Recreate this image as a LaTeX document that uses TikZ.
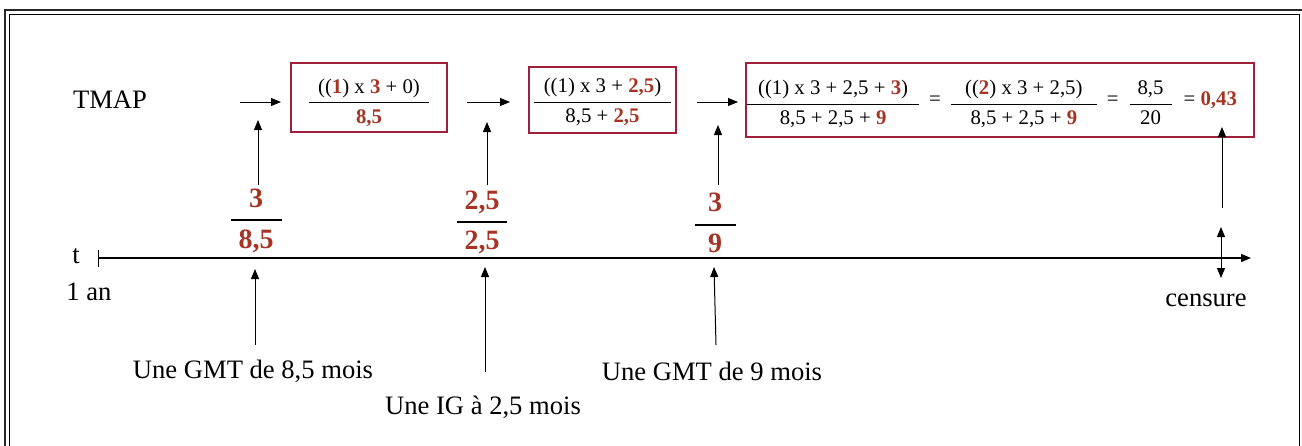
\documentclass[tikz,border=0pt]{standalone}
\usepackage{fontspec}
\setmainfont{Liberation Serif}
\usetikzlibrary{arrows.meta, positioning}
\definecolor{brique}{RGB}{165,52,36}
\definecolor{cadre}{RGB}{158,32,58}
\newcommand{\rg}[1]{\textcolor{brique}{\textbf{#1}}}
\newcommand{\fracbar}[4][0.5pt]{{\setlength{\arrayrulewidth}{#1}\renewcommand{\arraystretch}{1.15}%
  \begin{tabular}{@{}c@{}}\makebox[#2]{#3}\\\hline #4\end{tabular}}}
\newcommand{\baisse}[2]{\raisebox{-#1}[\height][\depth]{#2}}

\begin{document}
\begin{tikzpicture}[x=0.5pt, y=-0.5pt,
    font=\fontsize{13.3}{16}\selectfont,
    fleche/.style={-{Triangle[length=5pt,width=4pt]}, line width=0.5pt},
    boite/.style={draw=cadre, line width=0.6pt, inner sep=0pt},
    petit/.style={font=\fontsize{10.4}{12.5}\selectfont},
    gros/.style={font=\fontsize{14}{17}\selectfont}]
  \clip (0,0) rectangle (1302,445);
  % cadre double
  \draw[line width=1pt, black!85] (5,10) rectangle (1330,480);
  \draw[line width=0.5pt] (9,14) rectangle (1299,480);

  % ligne TMAP
  \node (tmap) at (110,100) {TMAP};
  \node[boite, petit, minimum width=78pt, minimum height=34.5pt]
    (b1) at (369,97.5) {\baisse{2.5pt}{\fracbar{60pt}{((\rg{1}) x \rg{3} + 0)}{\rg{8,5}}}};
  \node[boite, petit, minimum width=73.5pt, minimum height=33pt]
    (b2) at (602.5,100) {\baisse{1pt}{\fracbar{68.5pt}{((1) x 3 + \rg{2,5})}{8,5 + \rg{2,5}}}};
  \node[boite, petit, line width=1.1pt, minimum width=254pt, minimum height=37pt]
    (b3) at (1000,100) {\baisse{2pt}{\fracbar{86pt}{((1) x 3 + 2,5 + \rg{3})}{8,5 + 2,5 + \rg{9}}}%
      \hspace{5pt}=\hspace{5pt}%
      \baisse{2pt}{\fracbar{73pt}{((\rg{2}) x 3 + 2,5)}{8,5 + 2,5 + \rg{9}}}%
      \hspace{5pt}=\hspace{5.5pt}%
      \baisse{2pt}{\fracbar{21pt}{8,5}{20}}%
      \hspace{6pt}= \rg{0,43}\kern8pt\relax};

  \coordinate (h1) at (240,102);  \coordinate (h1e) at (281,102);
  \coordinate (h2) at (467,102);  \coordinate (h2e) at (510,102);
  \coordinate (h3) at (697,102);  \coordinate (h3e) at (738,102);
  \draw[fleche] (h1) -- (h1e);
  \draw[fleche] (h2) -- (h2e);
  \draw[fleche] (h3) -- (h3e);

  % poids
  \node[gros] (f1) at (256,220) {\fracbar[1pt]{25.5pt}{\rg{3}}{\rg{8,5}}};
  \node[gros] (f2) at (482,222) {\fracbar[0.6pt]{25pt}{\rg{2,5}}{\rg{2,5}}};
  \node[gros] (f3) at (715,224.5) {\fracbar[1pt]{20.5pt}{\rg{3}}{\rg{9}}};
  \coordinate (u1) at (258,120);
  \coordinate (u2) at (487,122);
  \coordinate (u3) at (718,125);
  \draw[fleche] (u1 |- 0,185) -- (u1);
  \draw[fleche] (u2 |- 0,185) -- (u2);
  \draw[fleche] (u3 |- 0,185) -- (u3);

  % axe du temps
  \coordinate (t0) at (98,258);
  \coordinate (t1) at (1251,258);
  \draw[{Bar[width=8.5pt]}-{Triangle[length=5pt,width=4pt]}, line width=0.6pt] (t0) -- (t1);
  \node (t) at (76,256) {t};
  \node (an) at (89,292) {1 an};

  % censure
  \coordinate (c0) at (1221,227);
  \coordinate (c1) at (1221,278);
  \draw[{Triangle[length=5pt,width=4pt]}-{Triangle[length=5pt,width=4pt]}, line width=0.5pt] (c0) -- (c1);
  \node (cens) at (1206,300) {censure};
  \coordinate (r0) at (1222,208);
  \coordinate (r1) at (1222,127);
  \draw[fleche] (r0) -- (r1);

  % evenements
  \node (g1) at (253,371) {Une GMT de 8,5 mois};
  \node (g2) at (483,407) {Une IG à 2,5 mois};
  \node (g3) at (712,371) {Une GMT de 9 mois};
  \coordinate (p1) at (255,269);
  \coordinate (p2) at (485,267);
  \coordinate (p3) at (714,267);
  \draw[fleche] (p1 |- 0,345) -- (p1);
  \draw[fleche] (p2 |- 0,372) -- (p2);
  \draw[fleche] (716,345) -- (p3);
\end{tikzpicture}
\end{document}
